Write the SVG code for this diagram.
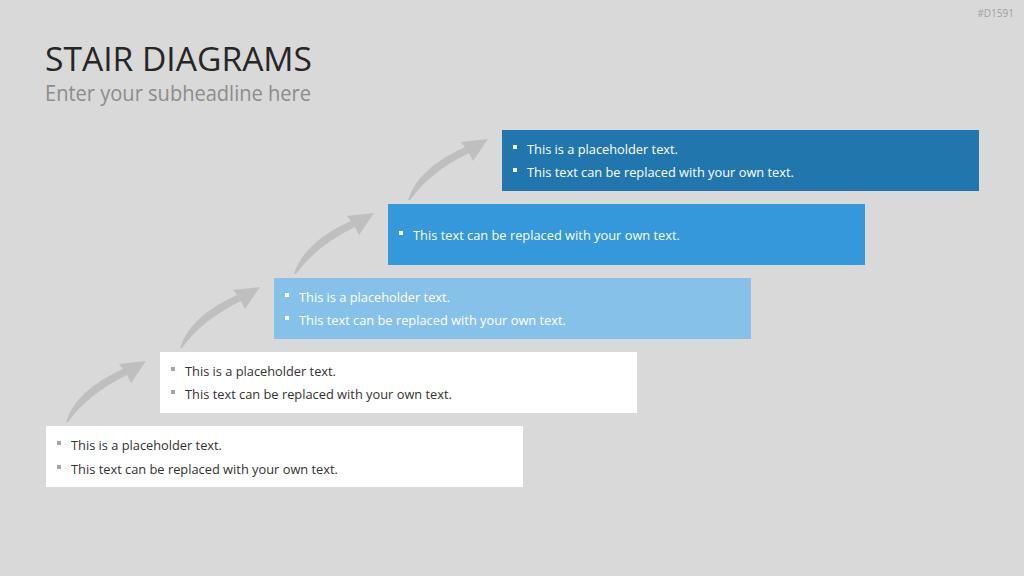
<svg xmlns="http://www.w3.org/2000/svg" width="1024" height="576" viewBox="0 0 1024 576">
<defs>
<style>
.bg{fill:#d9d9d9}
.t{font-family:"Open Sans","Liberation Sans",sans-serif;font-size:13.5px}
.dark{fill:#333333}
.light{fill:#ffffff}
.bd{fill:#a6a6a6}
.bl{fill:#ffffff}
.arrow{fill:#bfbfbf}
</style>
<path id="arr" d="M66 422 Q76 390 123 369 L119 364 L146 361 L131 383 L127 375 Q88 394 68 422 Z"/>
</defs>
<rect class="bg" x="0" y="0" width="1024" height="576"/>
<text x="1014" y="17" text-anchor="end" font-family="Open Sans, Liberation Sans, sans-serif" font-size="10" fill="#a0a0a0">#D1591</text>
<text x="45" y="71" font-family="Open Sans, Liberation Sans, sans-serif" font-size="32" fill="#262626" textLength="267" lengthAdjust="spacingAndGlyphs">STAIR DIAGRAMS</text>
<text x="45" y="101" font-family="Open Sans, Liberation Sans, sans-serif" font-size="21" fill="#8c8c8c" textLength="266" lengthAdjust="spacingAndGlyphs">Enter your subheadline here</text>
<g id="connectors">
<use href="#arr" class="arrow"/>
<use href="#arr" class="arrow" transform="translate(114,-74)"/>
<use href="#arr" class="arrow" transform="translate(228,-148)"/>
<use href="#arr" class="arrow" transform="translate(342,-222)"/>
</g>
<g id="step1">
<rect x="46" y="426" width="477" height="61" fill="#ffffff"/>
<rect class="bd" x="57" y="441" width="4" height="4"/>
<rect class="bd" x="57" y="465" width="4" height="4"/>
<text class="t dark" x="71" y="450" textLength="151" lengthAdjust="spacingAndGlyphs">This is a placeholder text.</text>
<text class="t dark" x="71" y="474" textLength="267" lengthAdjust="spacingAndGlyphs">This text can be replaced with your own text.</text>
</g>
<g id="step2">
<rect x="160" y="352" width="477" height="61" fill="#ffffff"/>
<rect class="bd" x="171" y="367" width="4" height="4"/>
<rect class="bd" x="171" y="390" width="4" height="4"/>
<text class="t dark" x="185" y="376" textLength="151" lengthAdjust="spacingAndGlyphs">This is a placeholder text.</text>
<text class="t dark" x="185" y="399" textLength="267" lengthAdjust="spacingAndGlyphs">This text can be replaced with your own text.</text>
</g>
<g id="step3">
<rect x="274" y="278" width="477" height="61" fill="#85c1e9"/>
<rect class="bl" x="285" y="293" width="4" height="4"/>
<rect class="bl" x="285" y="316" width="4" height="4"/>
<text class="t light" x="299" y="302" textLength="151" lengthAdjust="spacingAndGlyphs">This is a placeholder text.</text>
<text class="t light" x="299" y="325" textLength="267" lengthAdjust="spacingAndGlyphs">This text can be replaced with your own text.</text>
</g>
<g id="step4">
<rect x="388" y="204" width="477" height="61" fill="#3498db"/>
<rect class="bl" x="399" y="231" width="4" height="4"/>
<text class="t light" x="413" y="240" textLength="267" lengthAdjust="spacingAndGlyphs">This text can be replaced with your own text.</text>
</g>
<g id="step5">
<rect x="502" y="130" width="477" height="61" fill="#2176ae"/>
<rect class="bl" x="513" y="145" width="4" height="4"/>
<rect class="bl" x="513" y="168" width="4" height="4"/>
<text class="t light" x="527" y="154" textLength="151" lengthAdjust="spacingAndGlyphs">This is a placeholder text.</text>
<text class="t light" x="527" y="177" textLength="267" lengthAdjust="spacingAndGlyphs">This text can be replaced with your own text.</text>
</g>
</svg>
